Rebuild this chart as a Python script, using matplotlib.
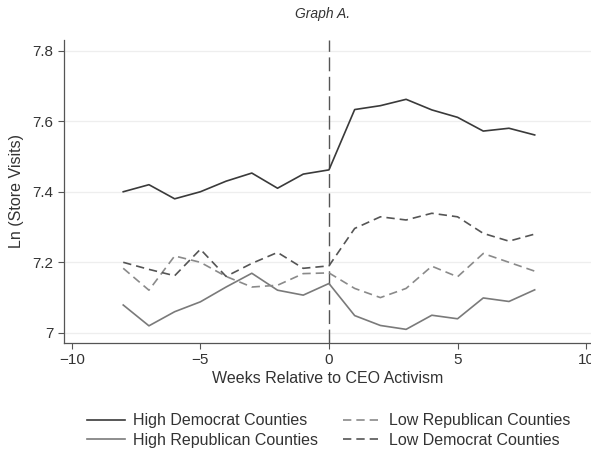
import numpy as np
import matplotlib
matplotlib.use('Agg')
import matplotlib.pyplot as plt

plt.rcParams['font.family'] = ['Liberation Sans', 'DejaVu Sans']

weeks = np.arange(-8, 9)

high_dem = [7.40, 7.42, 7.38, 7.40, 7.43, 7.453, 7.41, 7.45, 7.462,
            7.633, 7.644, 7.662, 7.632, 7.611, 7.572, 7.58, 7.561]
high_rep = [7.079, 7.02, 7.06, 7.088, 7.13, 7.169, 7.121, 7.107, 7.14,
            7.049, 7.021, 7.01, 7.05, 7.04, 7.099, 7.089, 7.122]
low_rep = [7.183, 7.121, 7.218, 7.20, 7.16, 7.13, 7.135, 7.168, 7.17,
           7.126, 7.10, 7.126, 7.189, 7.159, 7.225, 7.20, 7.175]
low_dem = [7.20, 7.18, 7.162, 7.237, 7.16, 7.197, 7.228, 7.183, 7.19,
           7.296, 7.329, 7.32, 7.339, 7.329, 7.282, 7.26, 7.28]

yticks = [7, 7.2, 7.4, 7.6, 7.8]
ytick_labels = ['7', '7.2', '7.4', '7.6', '7.8']
xticks = [-10, -5, 0, 5, 10]
xtick_labels = ['\u221210', '\u22125', '0', '5', '10']

fig = plt.figure(figsize=(5.91, 4.5), dpi=100)
ax = fig.add_axes([0.108, 0.238, 0.892, 0.673])

txt = '#333333'
for y in yticks:
    ax.axhline(y, color='#eeeeee', lw=0.9, zorder=0)
ax.axvline(0, color='#555555', lw=1.0, dashes=(10, 4), zorder=1)

ax.plot(weeks, high_dem, color='#3a3a3a', lw=1.2, label='High Democrat Counties')
ax.plot(weeks, high_rep, color='#7a7a7a', lw=1.2, label='High Republican Counties')
ax.plot(weeks, low_rep, color='#8a8a8a', lw=1.2, dashes=(5, 3), label='Low Republican Counties')
ax.plot(weeks, low_dem, color='#555555', lw=1.2, dashes=(5, 3), label='Low Democrat Counties')

ax.set_xlim(-10.31, 10.19)
ax.set_ylim(6.9716, 7.830)
ax.set_xticks(xticks)
ax.set_xticklabels(xtick_labels)
ax.set_yticks(yticks)
ax.set_yticklabels(ytick_labels)
ax.tick_params(colors='#555555', labelcolor=txt, labelsize=11, length=4, width=0.8)

for s in ['top', 'right']:
    ax.spines[s].set_visible(False)
for s in ['left', 'bottom']:
    ax.spines[s].set_color('#555555')
    ax.spines[s].set_linewidth(0.9)

ax.set_xlabel('Weeks Relative to CEO Activism', fontsize=11.5, color=txt, labelpad=3)
ax.set_ylabel('Ln (Store Visits)', fontsize=11.5, color=txt, labelpad=6)
fig.text(0.545, 0.985, 'Graph A.', ha='center', va='top', fontsize=10,
         style='italic', color=txt)

fig.legend(loc='center', bbox_to_anchor=(0.556, 0.043), ncol=2, frameon=False,
           fontsize=11.5, labelcolor=txt, handlelength=2.4, handletextpad=0.45,
           columnspacing=1.6, labelspacing=0.3)

fig.savefig('out.png', dpi=100)
